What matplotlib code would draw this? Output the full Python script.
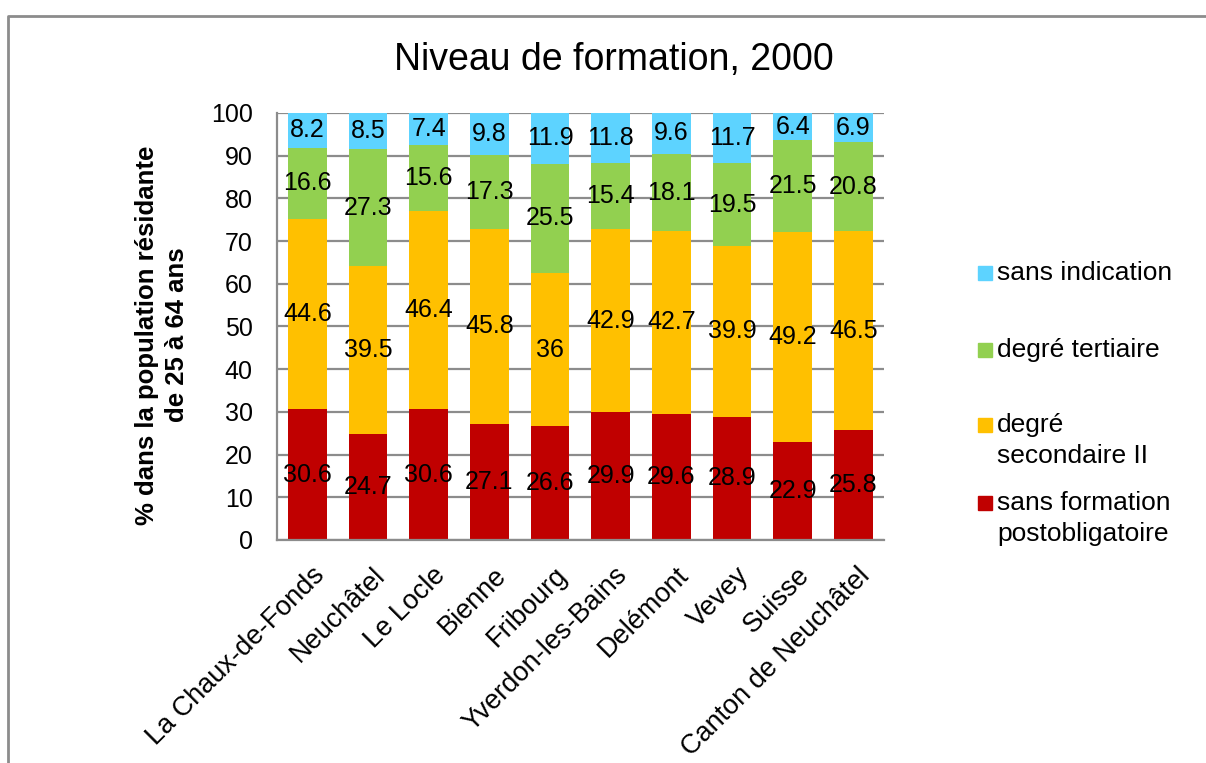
import numpy as np
import matplotlib.pyplot as plt
from matplotlib.patches import Rectangle
from matplotlib.transforms import ScaledTranslation

plt.rcParams['font.family'] = ['Liberation Sans', 'DejaVu Sans']

villes = ['La Chaux-de-Fonds', 'Neuchâtel', 'Le Locle', 'Bienne', 'Fribourg',
          'Yverdon-les-Bains', 'Delémont', 'Vevey', 'Suisse', 'Canton de Neuchâtel']
sans_formation = [30.6, 24.7, 30.6, 27.1, 26.6, 29.9, 29.6, 28.9, 22.9, 25.8]
secondaire = [44.6, 39.5, 46.4, 45.8, 36, 42.9, 42.7, 39.9, 49.2, 46.5]
tertiaire = [16.6, 27.3, 15.6, 17.3, 25.5, 15.4, 18.1, 19.5, 21.5, 20.8]
sans_indication = [8.2, 8.5, 7.4, 9.8, 11.9, 11.8, 9.6, 11.7, 6.4, 6.9]

series = [sans_formation, secondaire, tertiaire, sans_indication]
colors = ['#C00000', '#FFC000', '#92D050', '#5DD3FF']
labels = ['sans formation\npostobligatoire', 'degré\nsecondaire II',
          'degré tertiaire', 'sans indication']

fig = plt.figure(figsize=(12.06, 7.63), dpi=100)
ax = fig.add_axes([0.2297, 0.2923, 0.503, 0.5597])

x = np.arange(len(villes))
bottom = np.zeros(len(villes))
for vals, col in zip(series, colors):
    vals = np.array(vals, dtype=float)
    ax.bar(x, vals, bottom=bottom, width=0.64, color=col, zorder=2)
    for xi, b, v in zip(x, bottom, vals):
        ax.text(xi, b + v / 2, '{:g}'.format(v), ha='center', va='center',
                fontsize=18, color='black', zorder=3)
    bottom += vals

ax.set_xlim(-0.5, len(villes) - 0.5)
ax.set_ylim(0, 100)
ax.set_yticks(np.arange(0, 101, 10))
ax.yaxis.grid(True, color='#8C8C8C', linewidth=1.6, zorder=0)
ax.set_axisbelow(True)
for s in ['top', 'right']:
    ax.spines[s].set_visible(False)
for s in ['left', 'bottom']:
    ax.spines[s].set_color('#8C8C8C')
    ax.spines[s].set_linewidth(1.6)
ax.tick_params(axis='y', length=0, labelsize=18, pad=17.5)
ax.tick_params(axis='x', length=0, labelsize=19.5, pad=14)
ax.set_xticks(x)
ax.set_xticklabels(villes, rotation=45, ha='right', va='top', rotation_mode='anchor')
offset = ScaledTranslation(0.04, -0.03, fig.dpi_scale_trans)
for lab in ax.get_xticklabels():
    lab.set_transform(lab.get_transform() + offset)

ax.set_ylabel('% dans la population résidante\nde 25 à 64 ans', fontsize=18.5,
              fontweight='bold', linespacing=1.3)
ax.yaxis.set_label_coords(-0.145, 0.48)

fig.text(0.509, 0.921, 'Niveau de formation, 2000', ha='center', va='center', fontsize=27)

# legend drawn by hand to follow the uneven spacing of the original
leg_y = [503, 425, 350, 273]
for lab, col, yy in zip(labels, colors, leg_y):
    yf = 1 - yy / 763
    fig.add_artist(Rectangle((978 / 1206, yf - 7 / 763), 14 / 1206, 14 / 763,
                             transform=fig.transFigure, color=col))
    fig.text(997 / 1206, yf + 12 / 763, lab, ha='left', va='top', fontsize=19,
             linespacing=1.35)

# outer chart frame
fig.add_artist(plt.Line2D([8 / 1206, 8 / 1206, 1.0], [0.0, 1 - 16 / 763, 1 - 16 / 763],
                          transform=fig.transFigure, color='#8C8C8C', linewidth=2))

fig.savefig('out.png', dpi=100)
